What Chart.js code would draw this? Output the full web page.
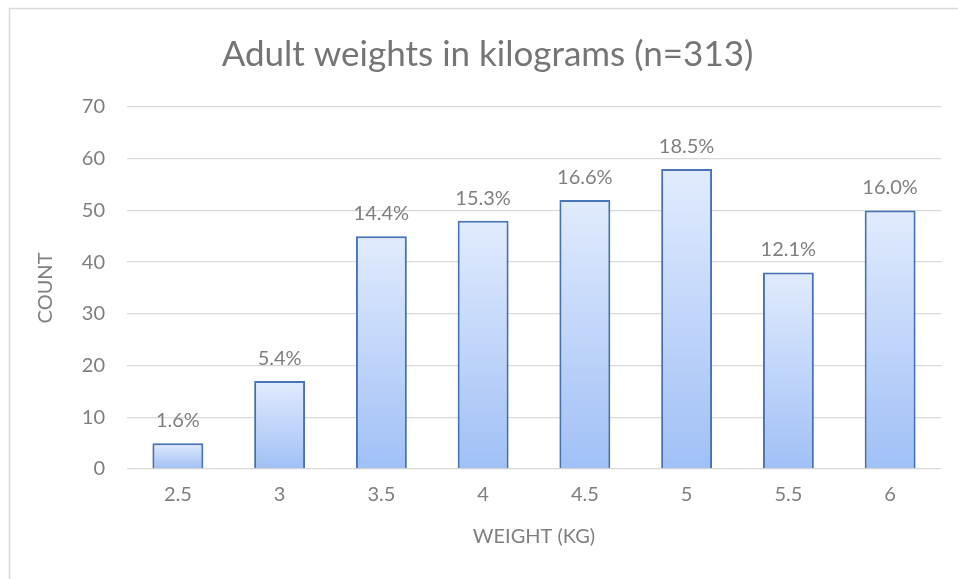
<!DOCTYPE html>
<html>
<head>
<meta charset="utf-8">
<script src="https://cdn.jsdelivr.net/npm/chart.js@4"></script>
<style>
  html, body { margin: 0; padding: 0; background: #fff; }
  #wrap { width: 958px; height: 579px; position: relative; }
</style>
</head>
<body>
<div id="wrap"><canvas id="weights" width="958" height="579"></canvas></div>
<script>
const categories = ["2.5", "3", "3.5", "4", "4.5", "5", "5.5", "6"];
const counts = [5, 17, 45, 48, 52, 58, 38, 50];
const percentLabels = ["1.6%", "5.4%", "14.4%", "15.3%", "16.6%", "18.5%", "12.1%", "16.0%"];
const yTicks = [0, 10, 20, 30, 40, 50, 60, 70];

const FONT = "Lato, 'Open Sans', sans-serif";
const GRAY = "#7f7f7f";

(() => {
  const el = document.getElementById("weights");

  // frame round the chart, as in the spreadsheet export
  const frame = {
    id: "frame",
    beforeDraw(chart) {
      const ctx = chart.ctx;
      ctx.save();
      ctx.strokeStyle = "#d9d9d9";
      ctx.lineWidth = 1.5;
      ctx.strokeRect(9.5, 8.5, 1000, 1000);
      ctx.restore();
    },
  };

  // soft shadow under the bars + percentage over each bar
  const valueLabels = {
    id: "valueLabels",
    beforeDatasetsDraw(chart) {
      const ctx = chart.ctx;
      ctx.save();
      ctx.shadowColor = "rgba(0,0,0,0.18)";
      ctx.shadowBlur = 4;
      ctx.shadowOffsetY = 1;
    },
    afterDatasetsDraw(chart) {
      const ctx = chart.ctx;
      ctx.restore();
      const meta = chart.getDatasetMeta(0);
      ctx.save();
      ctx.font = "20px " + FONT;
      ctx.fillStyle = GRAY;
      ctx.textAlign = "center";
      ctx.textBaseline = "alphabetic";
      meta.data.forEach((bar, i) => {
        ctx.fillText(percentLabels[i], bar.x, bar.y - 16);
      });
      ctx.restore();
    },
  };

  new Chart(el, {
    type: "bar",
    data: {
      labels: categories,
      datasets: [
        {
          label: "Count",
          data: counts,
          borderColor: "#4a78bd",
          borderWidth: 2,
          borderSkipped: "bottom",
          categoryPercentage: 1,
          barPercentage: 0.5,
          backgroundColor: (c) => {
            const chart = c.chart;
            const area = chart.chartArea;
            if (!area || c.parsed === undefined) return "#b9d0f7";
            const top = chart.scales.y.getPixelForValue(c.parsed.y);
            const g = chart.ctx.createLinearGradient(0, top, 0, area.bottom);
            g.addColorStop(0, "#e1ebfd");
            g.addColorStop(1, "#a0c0f6");
            return g;
          },
        },
      ],
    },
    options: {
      responsive: false,
      animation: false,
      layout: { padding: { left: 34, right: 17, top: 14, bottom: 30 } },
      plugins: {
        legend: { display: false },
        tooltip: { enabled: false },
        title: {
          display: true,
          text: "Adult weights in kilograms (n=313)",
          color: "#757575",
          font: { family: FONT, size: 35, weight: "normal" },
          padding: { top: 20, bottom: 31 },
        },
      },
      scales: {
        x: {
          afterFit: (s) => { s.height = 80; },
          grid: { display: false, drawTicks: false },
          border: { display: false },
          ticks: { color: GRAY, font: { family: FONT, size: 20 }, padding: 14 },
          title: {
            display: true,
            text: "WEIGHT (KG)",
            color: GRAY,
            font: { family: FONT, size: 20 },
            padding: { top: 10, bottom: 0 },
          },
        },
        y: {
          min: 0,
          max: 70,
          afterFit: (s) => { s.width = 93; },
          afterBuildTicks: (s) => { s.ticks = yTicks.map((v) => ({ value: v })); },
          grid: { color: "#d9d9d9", lineWidth: 1.3, drawTicks: false },
          border: { display: false },
          ticks: { color: GRAY, font: { family: FONT, size: 20 }, padding: 22 },
          title: {
            display: true,
            text: "COUNT",
            color: GRAY,
            font: { family: FONT, size: 20 },
            padding: { top: 0, bottom: 10 },
          },
        },
      },
    },
    plugins: [frame, valueLabels],
  });
})();
</script>
</body>
</html>
